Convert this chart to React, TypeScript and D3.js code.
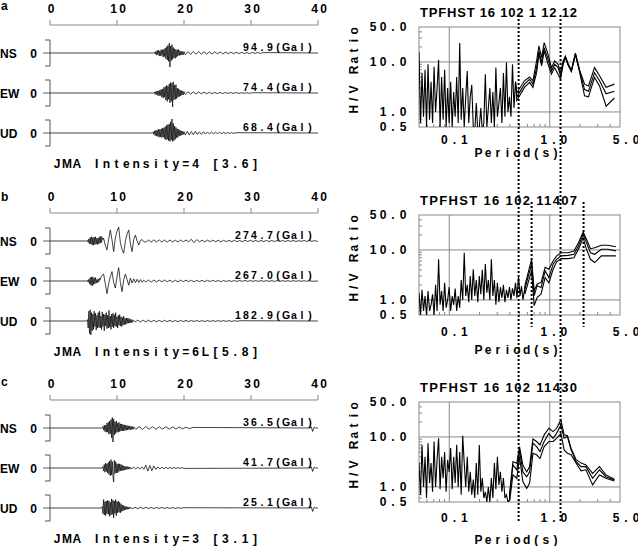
import React from "react";
import * as d3 from "d3";

const W = 638;
const H = 546;
const FONT = "'Liberation Sans', Arial, sans-serif";

const PANEL_Y = [0, 188, 375];
const PANEL_TAGS = ["a", "b", "c"];
const TAG_Y = [10, 13, 11];
const TIME_TICKS = [0, 10, 20, 30, 40];
const COMPONENTS = ["NS", "EW", "UD"];
const TRACE_Y = [53, 93, 133];
const INTENSITY = ["JMA Intensity=4 [3.6]", "JMA Intensity=6L[5.8]", "JMA Intensity=3 [3.1]"];
const PEAKS = [
  ["94.9(Gal)", "74.4(Gal)", "68.4(Gal)"],
  ["274.7(Gal)", "267.0(Gal)", "182.9(Gal)"],
  ["36.5(Gal)", "41.7(Gal)", "25.1(Gal)"],
];
const TITLES = ["TPFHST 16 102 1 12 12", "TPFHST 16 102 11407", "TPFHST 16 102 11430"];

// ---- waveforms: [start time (s), step (s), normalised amplitudes] ----
const aNsBurst = [0, 0.05, -0.08, 0.12, -0.15, 0.18, -0.12, 0.2, -0.22, 0.15,
  -0.2, 0.25, -0.18, 0.22, -0.3, 0.28, -0.25, 0.35, -0.4, 0.45,
  -0.5, 0.55, -0.6, 0.7, -1.0, 0.5, -0.55, 0.6, -0.45, 0.4,
  -0.35, 0.3, -0.38, 0.25, -0.3, 0.22, -0.2, 0.25, -0.18, 0.15,
  -0.15, 0.12, -0.14, 0.1, -0.12, 0.1];
const aNsTail = [-0.12, 0.1, -0.1, 0.11, -0.09, 0.1, -0.08, 0.09, -0.08, 0.08,
  -0.07, 0.08, -0.06, 0.07, -0.06, 0.06, -0.05, 0.06, -0.05, 0.05,
  -0.04, 0.05, -0.04, 0.04, -0.04, 0.04, -0.03, 0.04, -0.03, 0.03];
const aEwBurst = [0, 0.06, -0.1, 0.12, -0.1, 0.15, -0.18, 0.14, -0.2, 0.22,
  -0.18, 0.25, -0.3, 0.28, -0.35, 0.4, -0.3, 0.45, -0.5, 0.55,
  -0.6, 0.5, -0.45, 0.65, -0.7, 0.75, -0.6, 0.7, -1.0, 0.8,
  -0.5, 0.55, -0.45, 0.6, -0.4, 0.35, -0.3, 0.3, -0.25, 0.22,
  -0.2, 0.18, -0.15, 0.14, -0.12, 0.1];
const aEwTail = [-0.1, 0.09, -0.08, 0.08, -0.07, 0.07, -0.06, 0.06, -0.05, 0.05,
  -0.05, 0.04, -0.04, 0.04, -0.04, 0.04, -0.03, 0.03, -0.03, 0.03,
  -0.03, 0.02, -0.02, 0.02, -0.02, 0.02];
const aUdBurst = [0, 0.08, -0.1, 0.15, -0.18, 0.2, -0.22, 0.2, -0.25, 0.28,
  -0.3, 0.25, -0.28, 0.3, -0.32, 0.35, -0.3, 0.38, -0.4, 0.45,
  -0.5, 0.55, -0.45, 0.6, -0.55, 0.65, -0.6, 0.8, -0.5, 1.0,
  -0.6, 0.7, -0.55, 0.5, -0.45, 0.4, -0.35, 0.3, -0.3, 0.25,
  -0.2, 0.22, -0.18, 0.15, -0.15, 0.12, -0.1, 0.1];
const aUdTail = [-0.15, 0.12, -0.14, 0.1, -0.12, 0.12, -0.1, 0.08, -0.1, 0.09,
  -0.08, 0.08, -0.07, 0.06, -0.06, 0.06, -0.05, 0.05, -0.04, 0.04,
  -0.04, 0.03, -0.03, 0.03, -0.03, 0.02];

const bNsBurst = [0, 0.05, -0.1, 0.15, -0.2, 0.25, -0.22, 0.3, -0.28, 0.25,
  -0.3, 0.28, -0.25, 0.3, -0.22, 0.2, -0.25, 0.22, -0.2, 0.3,
  -0.15, 0.35, -0.1, 0.25, 0.1];
const bNsWave = [0.2, -0.3, -0.64, 0.1, 0.79, 0.1, -0.76, 0.2, 0.7, 1.0,
  -0.1, -0.6, -0.88, 0.0, 0.5, 0.79, -0.2, -0.76, 0.1, 0.43,
  0.0, -0.29, 0.05, 0.1, -0.05];
const bNsTail = [-0.08, 0.07, -0.08, 0.08, -0.07, 0.08, -0.07, 0.07, -0.08, 0.07,
  -0.07, 0.06, -0.07, 0.07, -0.06, 0.07, -0.06, 0.12, -0.12, 0.1,
  -0.06, 0.06, -0.06, 0.06, -0.05, 0.06, -0.05, 0.05, -0.06, 0.05,
  -0.05, 0.05, -0.05, 0.05, -0.05, 0.04, -0.05, 0.05, -0.04, 0.05,
  -0.04, 0.04, -0.05, 0.04, -0.04, 0.04, -0.04, 0.04, -0.04, 0.04,
  -0.04, 0.04, -0.04, 0.04, -0.03, 0.04, -0.04, 0.03, -0.03, 0.04,
  -0.03, 0.03, -0.03, 0.03, -0.03];
const bEwBurst = [0, 0.05, -0.08, 0.12, -0.2, 0.25, -0.3, 0.28, -0.35, 0.3,
  -0.25, 0.22, -0.2, 0.25, -0.15, 0.1, -0.12, 0.15, -0.05, 0.2, 0.1, 0.25];
const bEwWave = [0.4, 0.5, -0.2, -0.9, -0.2, 0.3, 0.67, -0.1, -0.5, 0.3,
  0.95, -0.1, -0.76, 0.1, 0.5, 0.1, -0.3, 0.2, -0.15, 0.15,
  -0.12, 0.12, -0.1, 0.1, -0.08, 0.06];
const bEwTail = [-0.07, 0.07, -0.08, 0.07, -0.07, 0.07, -0.06, 0.07, -0.06, 0.06,
  -0.07, 0.06, -0.06, 0.06, -0.05, 0.06, -0.05, 0.05, -0.06, 0.05,
  -0.05, 0.05, -0.05, 0.05, -0.04, 0.05, -0.04, 0.04, -0.05, 0.04,
  -0.04, 0.04, -0.04, 0.04, -0.04, 0.04, -0.03, 0.04, -0.03, 0.03,
  -0.03, 0.03, -0.03, 0.03, -0.03, 0.03, -0.03, 0.03, -0.03, 0.03,
  -0.03, 0.03, -0.03, 0.03, -0.03, 0.03, -0.02, 0.02, -0.02, 0.02,
  -0.02, 0.02, -0.02];
const bUdBurst = [0, 0.1, -0.5, 0.7, -0.9, 0.8, -1.0, 0.6, -0.7, 0.5,
  -0.6, 0.7, -0.4, 0.55, -0.65, 0.4, -0.5, 0.6, -0.45, 0.7,
  -0.5, 0.35, -0.6, 0.65, -0.4, 0.5, -0.7, 0.45, -0.35, 0.6,
  -0.55, 0.4, -0.5, 0.75, -0.45, 0.35, -0.6, 0.5, -0.4, 0.55,
  -0.5, 0.45, -0.35, 0.6, -0.4, 0.3, -0.5, 0.4, -0.3, 0.45,
  -0.35, 0.3, -0.4, 0.25, -0.3, 0.35, -0.25, 0.2, -0.25, 0.22,
  -0.18, 0.2, -0.15, 0.18, -0.15, 0.12, -0.12, 0.1, -0.1, 0.08];
const bUdTail = [-0.07, 0.06, -0.07, 0.06, -0.06, 0.06, -0.06, 0.05, -0.06, 0.05,
  -0.05, 0.05, -0.05, 0.05, -0.05, 0.04, -0.05, 0.04, -0.04, 0.04,
  -0.04, 0.04, -0.04, 0.04, -0.04, 0.03, -0.04, 0.03, -0.03, 0.03,
  -0.03, 0.03, -0.03, 0.03, -0.03, 0.03, -0.03, 0.02, -0.02, 0.02];

const cNsBurst = [0, 0.1, -0.15, 0.2, -0.25, 0.2, -0.3, 0.35, -0.3, 0.4,
  -0.45, 0.5, -0.4, 0.6, -0.7, 0.75, -1.0, 0.65, -0.5, 0.45,
  -0.4, 0.5, -0.3, 0.35, -0.3, 0.4, -0.25, 0.3, -0.22, 0.28,
  -0.2, 0.25, -0.2, 0.22, -0.18, 0.2, -0.15, 0.18, -0.15, 0.15,
  -0.12, 0.14, -0.12, 0.12, -0.1, 0.1, -0.1, 0.08];
const cNsTail = [-0.1, 0.1, -0.1, 0.1, -0.09, 0.1, -0.09, 0.09, -0.08, 0.09,
  -0.08, 0.08, -0.07, 0.07, -0.06, 0.06, -0.05, 0.04];
const cEwBurst = [0, 0.1, -0.2, 0.25, -0.3, 0.35, -0.25, 0.3, -0.35, 0.4,
  -0.45, 0.5, -0.55, 0.6, -0.5, 0.45, -0.6, -1.0, 0.55, -0.4,
  0.45, -0.35, 0.3, -0.35, 0.3, -0.25, 0.3, -0.2, 0.25, -0.2,
  0.2, -0.18, 0.15, -0.15, 0.12, -0.12, 0.1, -0.1, 0.1, -0.08,
  0.08, -0.08, 0.06];
const cEwTail = [-0.06, 0.06, -0.07, 0.07, -0.08, 0.08, -0.1, 0.2, -0.22, 0.18,
  -0.2, 0.15, -0.1, 0.08, -0.08, 0.07, -0.06, 0.06, -0.06, 0.05,
  -0.05, 0.05, -0.04, 0.04, -0.04, 0.03, -0.03];
const cUdBurst = [0, 0.1, -0.4, 0.6, -0.5, 0.45, -0.55, 0.5, -0.4, 0.55,
  -0.45, 0.5, -0.6, 0.4, -0.5, 0.65, -0.45, 0.55, -0.7, 0.5,
  -0.4, 0.6, -0.55, 0.45, -0.35, 0.5, -0.3, 0.4, -0.35, 0.3,
  -0.25, 0.2, -0.2, 0.18, -0.15, 0.12, -0.12, 0.1, -0.1, 0.08,
  -0.08, 0.06, -0.06, 0.05];
const cUdTail = [-0.05, 0.05, -0.05, 0.05, -0.04, 0.05, -0.04, 0.04, -0.04, 0.04,
  -0.03, 0.04, -0.03, 0.03, -0.03, 0.03, -0.03, 0.02, -0.02, 0.02];
const cEndMark = [0, 0.08, -0.25, 0.05, 0];

type Seg = [number, number, number[]];
const WAVES: Seg[][][] = [
  [
    [[15.5, 0.1, aNsBurst], [20.2, 0.4, aNsTail]],
    [[15.5, 0.1, aEwBurst], [20.2, 0.4, aEwTail]],
    [[15.3, 0.1, aUdBurst], [20.2, 0.3, aUdTail]],
  ],
  [
    [[5.5, 0.1, bNsBurst], [8.0, 0.25, bNsWave], [14.3, 0.4, bNsTail]],
    [[5.5, 0.1, bEwBurst], [7.75, 0.25, bEwWave], [14.3, 0.4, bEwTail]],
    [[5.5, 0.1, bUdBurst], [12.7, 0.4, bUdTail]],
  ],
  [
    [[7.8, 0.1, cNsBurst], [12.8, 0.5, cNsTail], [38.8, 0.2, cEndMark]],
    [[7.8, 0.1, cEwBurst], [12.2, 0.3, cEwTail], [38.8, 0.2, cEndMark]],
    [[7.7, 0.1, cUdBurst], [12.3, 0.4, cUdTail], [38.8, 0.2, cEndMark]],
  ],
];

// ---- H/V spectral ratios ----
// noisy short-period part: values at log-spaced periods from 0.05 s, step 0.015 decade
const NOISE_P0 = 0.05;
const NOISE_STEP = 0.015;
const hvNoiseA = [16, 0.6, 6, 0.8, 7, 0.5, 9, 0.7, 4, 0.6,
  8, 1.0, 3, 11, 0.5, 5, 0.7, 7, 0.5, 3,
  0.6, 4, 0.5, 2.5, 0.8, 5, 0.6, 24, 0.7, 3,
  0.5, 2, 6.6, 0.6, 2, 3.5, 0.5, 0.4, 1.5, 0.4,
  0.5, 1.2, 0.4, 0.6, 5.7, 0.5, 1.2, 3, 0.6, 2.5,
  0.5, 7.7, 0.8, 1.5, 3, 0.6, 6, 0.8, 9.7, 1,
  2, 0.8, 9, 1.2, 4];
const hvNoiseB = [1.4, 0.5, 1.6, 0.6, 1.2, 0.5, 1.5, 0.6, 0.8, 1.3,
  0.5, 2.0, 0.6, 6.5, 0.8, 1.5, 0.6, 2.2, 0.7, 1.0,
  1.8, 0.6, 1.2, 0.8, 1.7, 0.6, 1.2, 0.7, 2.5, 1.0,
  8.8, 1.2, 2.0, 0.9, 3.0, 1.0, 4.1, 1.2, 2.5, 0.9,
  3.0, 1.3, 4.0, 1.0, 5.2, 1.4, 2.5, 1.0, 6.5, 1.2,
  2.5, 0.8, 2.2, 0.9, 1.8, 1.1, 2.0, 0.9, 1.6, 1.1,
  1.8, 1.0, 1.7, 1.2, 2.2, 1.1, 3.0, 1.2, 1.9, 1.0, 1.6];
const hvNoiseC = [3.0, 0.7, 6.9, 1.0, 4.0, 0.6, 7.5, 1.2, 3.0, 0.8,
  8.1, 1.0, 3.5, 9.4, 0.9, 4.0, 1.5, 5.0, 0.8, 3.5,
  2.0, 6.0, 0.9, 4.0, 1.2, 7.0, 1.0, 5.0, 0.7, 10.6,
  3.0, 1.0, 4.0, 0.8, 2.0, 0.7, 1.4, 0.6, 3.0, 0.7,
  6.9, 0.8, 1.5, 0.6, 0.8, 0.5, 1.0, 0.5, 1.5, 0.6,
  3.0, 0.9, 4.0, 1.1, 2.0, 0.8, 1.5, 0.6, 0.7, 0.5, 0.55];

const periodsA = [0.47, 0.56, 0.63, 0.68, 0.74, 0.78, 0.83, 0.88, 0.95, 1.04, 1.12, 1.21, 1.28, 1.36, 1.43, 1.52, 1.64, 1.80, 1.98, 2.22, 2.43, 2.79, 3.13, 3.64, 4.40];
const meanA = [2.0, 3.6, 4.5, 3.6, 7.7, 16.6, 9.7, 19.3, 12.2, 6.6, 9.0, 7.7, 5.3, 9.7, 12.6, 9.0, 6.6, 14.5, 6.6, 2.8, 2.6, 6.1, 4.2, 2.3, 2.6];
const upperA = [2.4, 4.2, 5.0, 4.2, 10.5, 20.9, 12.2, 24.4, 15.4, 7.7, 10.5, 9.0, 6.1, 10.5, 13.0, 9.3, 6.8, 15.0, 6.9, 3.6, 3.3, 7.7, 5.3, 3.1, 3.6];
const lowerA = [1.7, 3.1, 3.9, 3.1, 6.1, 14.3, 8.3, 16.6, 9.7, 5.7, 7.7, 5.7, 4.5, 9.0, 12.2, 8.7, 6.4, 14.0, 6.3, 2.1, 2.0, 4.9, 3.3, 1.3, 1.9];

const periodsB = [0.566, 0.659, 0.70, 0.75, 0.82, 0.90, 0.98, 1.08, 1.17, 1.30, 1.52, 1.74, 1.93, 2.15, 2.32, 2.54, 2.80, 3.26, 3.78, 4.55];
const meanB = [1.65, 5.2, 1.22, 1.93, 1.78, 3.8, 2.8, 5.2, 6.5, 7.6, 7.8, 8.2, 12, 20.5, 14, 8.8, 8.2, 10.3, 10.3, 9.6];
const upperB = [1.93, 6.5, 1.53, 2.08, 2.24, 4.5, 4.1, 6.0, 7.6, 8.8, 8.8, 9.5, 14, 22.8, 16.3, 10.6, 11.1, 12.4, 12.4, 11.6];
const lowerB = [1.32, 3.8, 0.77, 1.13, 1.32, 2.8, 2.2, 4.1, 5.8, 6.7, 6.7, 7.0, 10.3, 17.6, 10.3, 6.5, 5.6, 7.6, 7.6, 7.6];

const periodsC = [0.40, 0.43, 0.47, 0.50, 0.54, 0.59, 0.63, 0.68, 0.74, 0.80, 0.88, 0.98, 1.08, 1.17, 1.29, 1.39, 1.50, 1.63, 1.83, 2.05, 2.29, 2.67, 3.12, 3.62, 4.40];
const meanC = [0.69, 2.75, 2.2, 5.5, 2.0, 1.6, 2.0, 7.5, 6.4, 5.1, 8.1, 11.8, 9.4, 11.8, 17.4, 9.4, 10.2, 5.5, 3.2, 2.55, 2.55, 1.49, 2.2, 1.6, 1.38];
const upperC = [0.81, 3.2, 2.97, 6.4, 2.75, 2.0, 2.55, 9.1, 8.1, 6.9, 11, 14.9, 12.8, 14.9, 21.9, 11, 10.6, 5.9, 3.5, 3.0, 2.75, 1.87, 2.55, 1.74, 1.42];
const lowerC = [0.55, 1.74, 1.49, 4.0, 1.28, 0.94, 1.18, 4.7, 4.4, 3.7, 6.4, 8.1, 8.1, 9.4, 11.8, 5.5, 4.7, 4.4, 3.0, 2.1, 2.2, 1.1, 1.74, 1.49, 1.32];

const HV = [
  { noise: hvNoiseA, periods: periodsA, mean: meanA, upper: upperA, lower: lowerA },
  { noise: hvNoiseB, periods: periodsB, mean: meanB, upper: upperB, lower: lowerB },
  { noise: hvNoiseC, periods: periodsC, mean: meanC, upper: upperC, lower: lowerC },
];

const HV_YTICKS = [50, 10, 1, 0.5];
const HV_YLABELS = ["50.0", "10.0", "1.0", "0.5"];
const HV_XTICKS = [0.1, 1, 5];
const HV_XLABELS = ["0.1", "1.0", "5.0"];
const HV_XMINOR = [0.06, 0.07, 0.08, 0.09, 0.2, 0.3, 0.4, 0.5, 0.6, 0.7, 0.8, 0.9, 2, 3, 4];
const HV_YMINOR = [0.6, 0.7, 0.8, 0.9, 2, 3, 4, 5, 6, 7, 8, 9, 20, 30, 40];
const DOTTED_ALL = [0.49, 1.28];
const DOTTED_B = [0.66, 2.17];

// per-panel label positions of the H/V plots
const XLABEL_Y = [144, 148, 147];
const PERIOD_Y = [157, 166, 169];
const XLABEL_SHIFT = [5, 4, 6];

function Mono({ x, y, text, pitch, anchor = "start", size = 12 }: any) {
  const n = text.length;
  let first = x + pitch / 2;
  if (anchor === "middle") first = x - ((n - 1) * pitch) / 2;
  if (anchor === "end") first = x - pitch / 2 - (n - 1) * pitch;
  const xs = Array.from(text as string, (_, i) => (first + i * pitch).toFixed(1)).join(" ");
  return (
    <text x={xs} y={y} textAnchor="middle" fontFamily={FONT} fontWeight="bold" fontSize={size} fill="#000">
      {text}
    </text>
  );
}

function expand(segs: Seg[]) {
  const pts: [number, number][] = [[0, 0]];
  segs.forEach(([t0, dt, vals]) => vals.forEach((v, i) => pts.push([t0 + i * dt, v])));
  pts.push([40, 0]);
  return pts;
}

export default function App() {
  const tx = d3.scaleLinear().domain([0, 40]).range([50, 318]);
  const amp = d3.scaleLinear().domain([-1, 1]).range([14, -14]);
  const px = d3.scaleLog().domain([0.05, 5]).range([419, 620]);
  const py = d3.scaleLog().domain([0.5, 50]).range([127, 27]);
  const hvLine = d3.line<[number, number]>().x((d) => px(d[0])).y((d) => py(d[1]));

  return (
    <div style={{ position: "absolute", left: 0, top: 0 }}>
      <svg width={W} height={H} style={{ display: "block", background: "#fff" }}>
        <defs>
          <clipPath id="hvclip">
            <rect x={419} y={27} width={201} height={100} />
          </clipPath>
        </defs>
        {PANEL_Y.map((oy, p) => {
          const noisePts: [number, number][] = HV[p].noise.map((v, i) => [
            Math.pow(10, Math.log10(NOISE_P0) + i * NOISE_STEP),
            v,
          ]);
          const last = noisePts[noisePts.length - 1];
          const smooth = (vals: number[]) =>
            [last, ...HV[p].periods.map((t, i) => [t, vals[i]] as [number, number])];
          return (
            <g key={p}>
              {/* ---- waveform panel ---- */}
              <text x={1} y={oy + TAG_Y[p]} fontFamily={FONT} fontWeight="bold" fontSize={12}>
                {PANEL_TAGS[p]}
              </text>
              <line x1={tx(0)} x2={tx(40)} y1={oy + 25} y2={oy + 25} stroke="#888" />
              {TIME_TICKS.map((t) => (
                <g key={t}>
                  <line x1={tx(t)} x2={tx(t)} y1={oy + 20} y2={oy + 25} stroke="#888" />
                  <Mono x={tx(t) + 1} y={oy + 13} text={String(t)} pitch={9} anchor="middle" />
                </g>
              ))}
              {COMPONENTS.map((c, k) => {
                const by = oy + TRACE_Y[k];
                const pts = expand(WAVES[p][k]);
                const path = d3
                  .line<[number, number]>()
                  .x((d) => tx(d[0]))
                  .y((d) => by + amp(d[1]))(pts);
                return (
                  <g key={c}>
                    <text x={0} y={by + 4.5} fontFamily={FONT} fontWeight="bold" fontSize={12}>
                      {c}
                    </text>
                    <text x={33.5} y={by + 4.5} textAnchor="middle" fontFamily={FONT} fontWeight="bold" fontSize={12}>
                      0
                    </text>
                    <path d={`M45,${by - 13}H50V${by + 13}H45`} fill="none" stroke="#555" />
                    <line x1={43} x2={50} y1={by} y2={by} stroke="#333" strokeWidth={0.8} />
                    <path d={path || ""} fill="none" stroke="#111" strokeWidth={0.8} />
                    <Mono x={314} y={by - 2} text={PEAKS[p][k]} pitch={8} anchor="end" size={10.5} />
                  </g>
                );
              })}
              <Mono x={52} y={oy + 168} text={INTENSITY[p]} pitch={9.9} />

              {/* ---- H/V panel ---- */}
              <g transform={`translate(0,${oy})`}>
                <text
                  x={420}
                  y={17}
                  textLength={157}
                  lengthAdjust="spacing"
                  fontFamily={FONT}
                  fontWeight="bold"
                  fontSize={13}
                >
                  {TITLES[p]}
                </text>
                {[0.1, 1].map((t) => (
                  <line key={t} x1={px(t)} x2={px(t)} y1={27} y2={127} stroke="#888" />
                ))}
                {[1, 10].map((v) => (
                  <line key={v} x1={419} x2={620} y1={py(v)} y2={py(v)} stroke="#888" />
                ))}
                {HV_XMINOR.map((t) => (
                  <line key={t} x1={px(t)} x2={px(t)} y1={124} y2={127} stroke="#888" />
                ))}
                {HV_YMINOR.map((v) => (
                  <line key={v} x1={419} x2={422} y1={py(v)} y2={py(v)} stroke="#888" />
                ))}
                <rect x={419} y={27} width={201} height={100} fill="none" stroke="#888" />
                <g clipPath="url(#hvclip)" fill="none" stroke="#000" strokeWidth={1.1}>
                  <path d={hvLine(noisePts) || ""} />
                  <path d={hvLine(smooth(HV[p].mean)) || ""} />
                  <path d={hvLine(smooth(HV[p].upper)) || ""} />
                  <path d={hvLine(smooth(HV[p].lower)) || ""} />
                </g>
                {HV_YTICKS.map((v, i) => (
                  <Mono key={v} x={408} y={py(v) + 4.3} text={HV_YLABELS[i]} pitch={10} anchor="end" />
                ))}
                {HV_XTICKS.map((t, i) => (
                  <Mono
                    key={t}
                    x={px(t) + XLABEL_SHIFT[i]}
                    y={XLABEL_Y[p]}
                    text={HV_XLABELS[i]}
                    pitch={10}
                    anchor="middle"
                  />
                ))}
                <Mono x={517} y={PERIOD_Y[p]} text="Period(s)" pitch={9.6} anchor="middle" />
                <g transform="translate(358,70) rotate(-90)">
                  <Mono x={0} y={0} text="H/V Ratio" pitch={9.8} anchor="middle" />
                </g>
              </g>
            </g>
          );
        })}
        {/* dotted reference periods */}
        {DOTTED_ALL.map((t) => (
          <line key={t} x1={px(t)} x2={px(t)} y1={15} y2={522} stroke="#000" strokeWidth={2} strokeDasharray="2 2" />
        ))}
        {DOTTED_B.map((t) => (
          <line key={t} x1={px(t)} x2={px(t)} y1={202} y2={327} stroke="#000" strokeWidth={2} strokeDasharray="2 2" />
        ))}
      </svg>
    </div>
  );
}
